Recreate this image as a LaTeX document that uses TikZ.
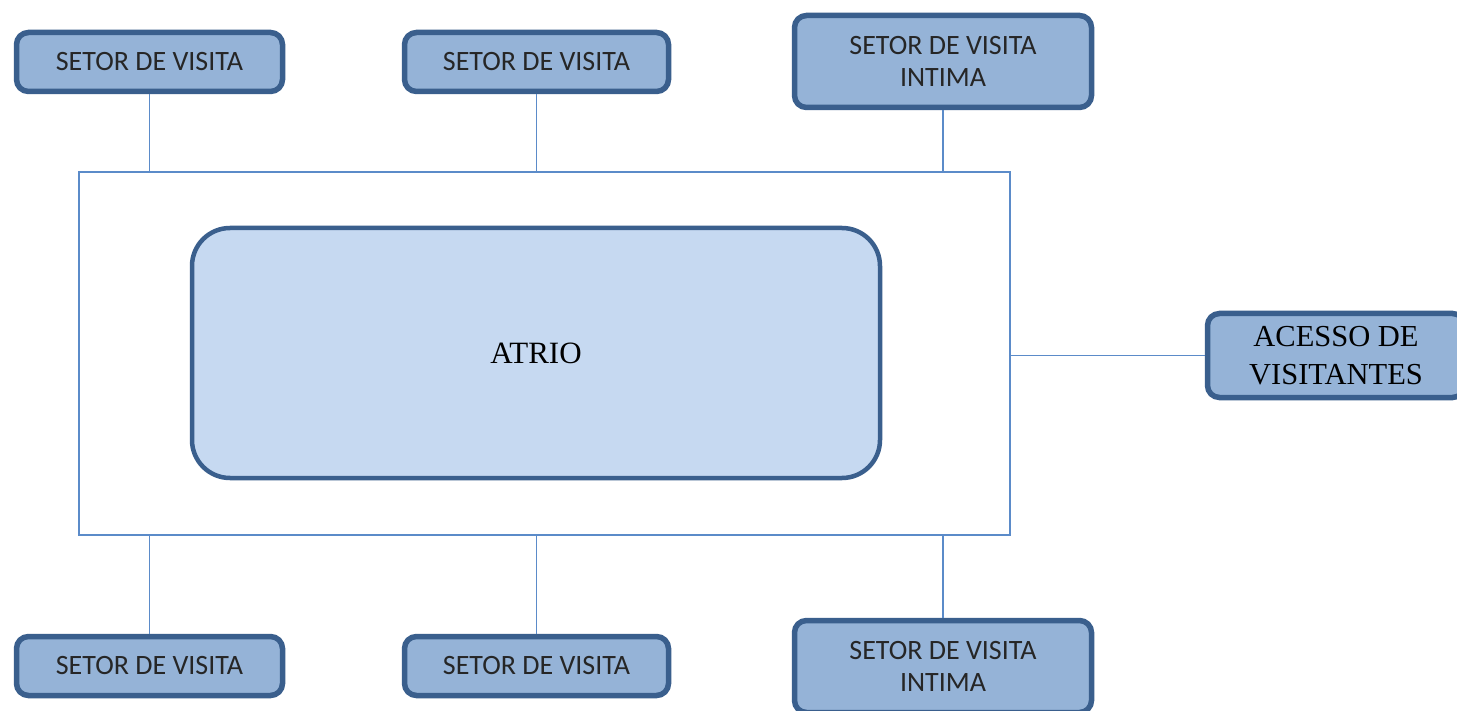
\documentclass[tikz,border=0pt]{standalone}
\usepackage{fontspec}
\setmainfont{Liberation Serif}
\setsansfont{Carlito}
\definecolor{bdr}{HTML}{3A5F8D}
\definecolor{boxfill}{HTML}{95B3D7}
\definecolor{atriofill}{HTML}{C6D9F1}
\definecolor{lnk}{HTML}{5B8BC9}
\tikzset{
  setor/.style={draw=bdr, fill=boxfill, line width=5.5pt, rounded corners=12pt, inner sep=0pt, align=center,
    font=\sffamily\fontsize{28}{32}\selectfont, text=black!85},
  atriobox/.style={draw=bdr, fill=atriofill, line width=4.5pt, rounded corners=38pt, inner sep=0pt,
    font=\rmfamily\fontsize{31}{38}\selectfont},
  frame/.style={draw=lnk, line width=1.7pt, inner sep=0pt},
  link/.style={draw=lnk, line width=1.7pt}
}
\begin{document}
\begin{tikzpicture}[x=1pt,y=-1pt]
\useasboundingbox (0,0) rectangle (1457,711);
\clip (0,0) rectangle (1457,711);
\fill[white] (0,0) rectangle (1457,711);
\node[frame, minimum width=931pt, minimum height=363pt] (outer) at (544.5,353.5) {};
\node[atriobox, minimum width=688pt, minimum height=250pt] (atrio) at (536,353) {ATRIO};
\node[setor, minimum width=266pt, minimum height=59pt] (tl) at (149.5,62) {SETOR DE VISITA};
\node[setor, minimum width=264pt, minimum height=59pt] (tm) at (536.5,62) {SETOR DE VISITA};
\node[setor, minimum width=297pt, minimum height=92pt] (tr) at (943,61.5) {SETOR DE VISITA\\INTIMA};
\node[setor, minimum width=266pt, minimum height=59pt] (bl) at (149.5,666) {SETOR DE VISITA};
\node[setor, minimum width=264pt, minimum height=59pt] (bm) at (536.5,666) {SETOR DE VISITA};
\node[setor, minimum width=297pt, minimum height=92pt] (br) at (943,666.5) {SETOR DE VISITA\\INTIMA};
\node[setor, minimum width=257pt, minimum height=84pt, font=\rmfamily\fontsize{30.5}{38}\selectfont, text=black] (acc) at (1336,355.5) {ACESSO DE\\VISITANTES};
\draw[link] (tl.south) -- (tl.south |- outer.north);
\draw[link] (tm.south) -- (tm.south |- outer.north);
\draw[link] (tr.south) -- (tr.south |- outer.north);
\draw[link] (bl.north) -- (bl.north |- outer.south);
\draw[link] (bm.north) -- (bm.north |- outer.south);
\draw[link] (br.north) -- (br.north |- outer.south);
\draw[link] (acc.west) -- (acc.west -| outer.east);
\end{tikzpicture}
\end{document}
